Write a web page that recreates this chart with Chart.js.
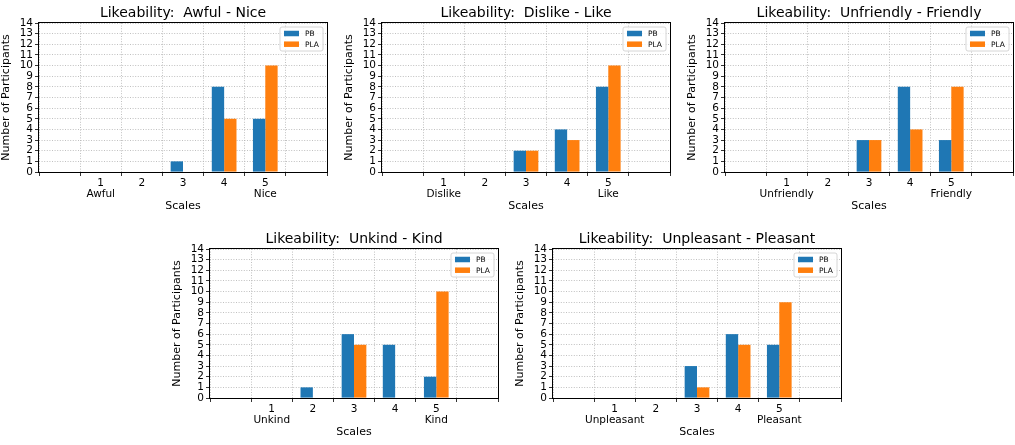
<!DOCTYPE html>
<html>
<head>
<meta charset="utf-8">
<title>Likeability</title>
<script src="https://cdn.jsdelivr.net/npm/chart.js@4.4.0/dist/chart.umd.min.js"></script>
<style>
  html, body { margin: 0; padding: 0; background: #fff; width: 1015px; height: 445px; overflow: hidden; }
  canvas { position: absolute; }
</style>
</head>
<body>
<canvas id="chartNice" width="366" height="217" style="left:0px;top:0px"></canvas>
<canvas id="chartLike" width="366" height="217" style="left:343px;top:0px"></canvas>
<canvas id="chartFriendly" width="366" height="217" style="left:686px;top:0px"></canvas>
<canvas id="chartKind" width="366" height="217" style="left:171px;top:226px"></canvas>
<canvas id="chartPleasant" width="366" height="217" style="left:514px;top:226px"></canvas>
<script>
// Likeability ratings, PB vs PLA, five 1-5 scales

// Data
var scalePoints = [1, 2, 3, 4, 5];
var lowEnds = ["Awful", "Dislike", "Unfriendly", "Unkind", "Unpleasant"];
var highEnds = ["Nice", "Like", "Friendly", "Kind", "Pleasant"];

var pbNice = [0, 0, 1, 8, 5];
var plaNice = [0, 0, 0, 5, 10];
var pbLike = [0, 0, 2, 4, 8];
var plaLike = [0, 0, 2, 3, 10];
var pbFriendly = [0, 0, 3, 8, 3];
var plaFriendly = [0, 0, 3, 4, 8];
var pbKind = [0, 1, 6, 5, 2];
var plaKind = [0, 0, 5, 0, 10];
var pbPleasant = [0, 0, 3, 6, 5];
var plaPleasant = [0, 0, 1, 5, 9];

var yTicks = [0, 1, 2, 3, 4, 5, 6, 7, 8, 9, 10, 11, 12, 13, 14];

Chart.defaults.font.family = "'DejaVu Sans', sans-serif";
Chart.defaults.color = "#000";

// matplotlib style box around the plot area
var frameBox = {
    id: "frameBox",
    afterDatasetsDraw: function(chart) {
        var a = chart.chartArea;
        var ctx = chart.ctx;
        ctx.save();
        ctx.strokeStyle = "#000";
        ctx.lineWidth = 1;
        ctx.strokeRect(Math.round(a.left) - 0.5, Math.round(a.top) - 0.5,
            Math.round(a.right - a.left) + 1, Math.round(a.bottom - a.top) + 1);
        ctx.restore();
    }
};

// title centred over the plot area (the built-in one centres over the canvas)
var axesTitle = {
    id: "axesTitle",
    afterDraw: function(chart, args, opts) {
        var a = chart.chartArea;
        var ctx = chart.ctx;
        ctx.save();
        ctx.font = "14px 'DejaVu Sans'";
        ctx.fillStyle = "#000";
        ctx.textAlign = "center";
        ctx.textBaseline = "middle";
        ctx.fillText(opts.text, (a.left + a.right) / 2, a.top - 10);
        ctx.restore();
    }
};

// small legend in the upper right corner, inside the axes
var cornerLegend = {
    id: "cornerLegend",
    afterDraw: function(chart) {
        var a = chart.chartArea;
        var ctx = chart.ctx;
        var sets = chart.data.datasets;
        ctx.save();
        ctx.font = "7.5px 'DejaVu Sans'";
        var textW = 0;
        sets.forEach(function(d) {
            textW = Math.max(textW, ctx.measureText(d.label).width);
        });
        var w = 4 + 15 + 6 + textW + 4;
        var h = 24;
        var x = a.right - 4 - w;
        var y = a.top + 4;
        ctx.beginPath();
        ctx.roundRect(x, y, w, h, 2);
        ctx.fillStyle = "rgba(255,255,255,0.8)";
        ctx.fill();
        ctx.strokeStyle = "#cccccc";
        ctx.lineWidth = 0.8;
        ctx.stroke();
        ctx.textBaseline = "middle";
        ctx.textAlign = "left";
        for (var i = 0; i < sets.length; i++) {
            var cy = y + 6.5 + i * 10.7;
            ctx.fillStyle = sets[i].backgroundColor;
            ctx.fillRect(x + 4, cy - 2.75, 15, 5.5);
            ctx.fillStyle = "#000";
            ctx.fillText(sets[i].label, x + 4 + 15 + 6, cy + 0.5);
        }
        ctx.restore();
    }
};

function makeChart(canvasId, idx, pb, pla) {
    var low = lowEnds[idx];
    var high = highEnds[idx];
    return new Chart(document.getElementById(canvasId), {
        type: "bar",
        data: {
            datasets: [{
                label: "PB",
                data: scalePoints.map(function(s, i) { return {x: s, y: pb[i]}; }),
                backgroundColor: "#1f77b4",
                categoryPercentage: 0.6,
                barPercentage: 1.0
            }, {
                label: "PLA",
                data: scalePoints.map(function(s, i) { return {x: s, y: pla[i]}; }),
                backgroundColor: "#ff7f0e",
                categoryPercentage: 0.6,
                barPercentage: 1.0
            }]
        },
        options: {
            responsive: false,
            animation: false,
            events: [],
            layout: { padding: { left: 0, right: 39, top: 23, bottom: 0 } },
            plugins: {
                legend: { display: false },
                tooltip: { enabled: false },
                title: { display: false },
                axesTitle: { text: "Likeability:  " + low + " - " + high }
            },
            scales: {
                x: {
                    type: "linear",
                    min: 0,
                    max: 6,
                    afterFit: function(scale) { scale.height = 45; },
                    title: {
                        display: true,
                        text: "Scales",
                        font: { size: 11 },
                        padding: { top: 2, bottom: 4 }
                    },
                    ticks: {
                        stepSize: 1,
                        autoSkip: false,
                        maxRotation: 0,
                        minRotation: 0,
                        padding: 1,
                        font: { size: 10.5, lineHeight: 1.1 },
                        callback: function(value) {
                            if (value === 1) return ["1", low];
                            if (value === 5) return ["5", high];
                            if (value < 1 || value > 5) return "";
                            return String(value);
                        }
                    },
                    grid: {
                        color: "#b0b0b0",
                        lineWidth: 0.8,
                        tickLength: 4,
                        tickColor: "#000",
                        tickWidth: 0.8,
                        tickBorderDash: []
                    },
                    border: { display: false, dash: [1, 1.6] }
                },
                y: {
                    min: 0,
                    max: 14,
                    afterFit: function(scale) { scale.width = 39; },
                    afterBuildTicks: function(scale) {
                        scale.ticks = yTicks.map(function(v) { return {value: v}; });
                    },
                    title: {
                        display: true,
                        text: "Number of Participants",
                        font: { size: 11 },
                        padding: { top: 0, bottom: 4 }
                    },
                    ticks: {
                        autoSkip: false,
                        padding: 2,
                        font: { size: 10.5 }
                    },
                    grid: {
                        color: "#b0b0b0",
                        lineWidth: 0.8,
                        tickLength: 4,
                        tickColor: "#000",
                        tickWidth: 0.8,
                        tickBorderDash: []
                    },
                    border: { display: false, dash: [1, 1.6] }
                }
            }
        },
        plugins: [frameBox, axesTitle, cornerLegend]
    });
}

makeChart("chartNice", 0, pbNice, plaNice);
makeChart("chartLike", 1, pbLike, plaLike);
makeChart("chartFriendly", 2, pbFriendly, plaFriendly);
makeChart("chartKind", 3, pbKind, plaKind);
makeChart("chartPleasant", 4, pbPleasant, plaPleasant);
</script>
</body>
</html>
